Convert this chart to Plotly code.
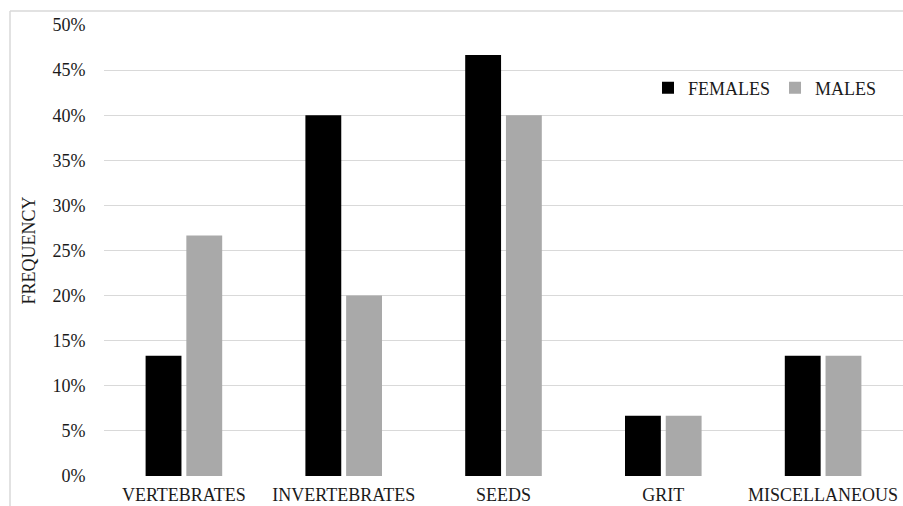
import plotly.graph_objects as go

categories = ["VERTEBRATES", "INVERTEBRATES", "SEEDS", "GRIT", "MISCELLANEOUS"]
females = [0.1333, 0.40, 0.4667, 0.0667, 0.1333]
males = [0.2667, 0.20, 0.40, 0.0667, 0.1333]
y_ticks = [0, 0.05, 0.10, 0.15, 0.20, 0.25, 0.30, 0.35, 0.40, 0.45, 0.50]

FONT = "Liberation Serif"
TXT = "#1a1a1a"

fig = go.Figure()
fig.add_trace(go.Bar(name="FEMALES", x=categories, y=females, marker=dict(color="#000000", line=dict(width=0))))
fig.add_trace(go.Bar(name="MALES", x=categories, y=males, marker=dict(color="#a9a9a9", line=dict(width=0))))

W, H = 903, 506
L, T, PW, PH = 104, 25, 799, 451
fy_top = (T + PH - 11) / PH
fx_left = (10 - L) / PW
border = dict(color="#d9d9d9", width=1.5)
fig.update_layout(
    width=W, height=H,
    margin=dict(l=L, r=W - L - PW, t=T, b=H - T - PH, autoexpand=False),
    paper_bgcolor="white", plot_bgcolor="white",
    font=dict(family=FONT, size=18, color=TXT),
    barmode="group", bargap=0.49, bargroupgap=0.12,
    showlegend=True,
    legend=dict(orientation="h", x=(648 - L) / PW, y=(T + PH - 88) / PH, xanchor="left", yanchor="middle",
                font=dict(family=FONT, size=18, color=TXT),
                bgcolor="rgba(0,0,0,0)", itemwidth=30, traceorder="normal"),
    xaxis=dict(showgrid=False, zeroline=False, showline=False, automargin=False,
               ticks="outside", ticklen=2, tickcolor="white",
               tickfont=dict(family=FONT, size=18, color=TXT)),
    yaxis=dict(range=[0, 0.5], tickvals=y_ticks, tickformat=".0%", automargin=False,
               showgrid=True, gridcolor="#d9d9d9", gridwidth=1,
               zeroline=False, showline=False,
               ticks="outside", ticklen=14, tickcolor="white",
               tickfont=dict(family=FONT, size=18, color=TXT),
               title=dict(text="FREQUENCY", font=dict(family=FONT, size=18, color=TXT), standoff=12)),
    shapes=[
        dict(type="line", xref="paper", yref="paper", x0=fx_left, x1=1.05, y0=fy_top, y1=fy_top,
             line=border, layer="below"),
        dict(type="line", xref="paper", yref="paper", x0=fx_left, x1=fx_left, y0=-0.2, y1=fy_top,
             line=border, layer="below"),
    ],
)

fig.write_html("out.html", config={"displayModeBar": False},
               post_script="document.body.style.margin='0';document.body.style.overflow='hidden';")
